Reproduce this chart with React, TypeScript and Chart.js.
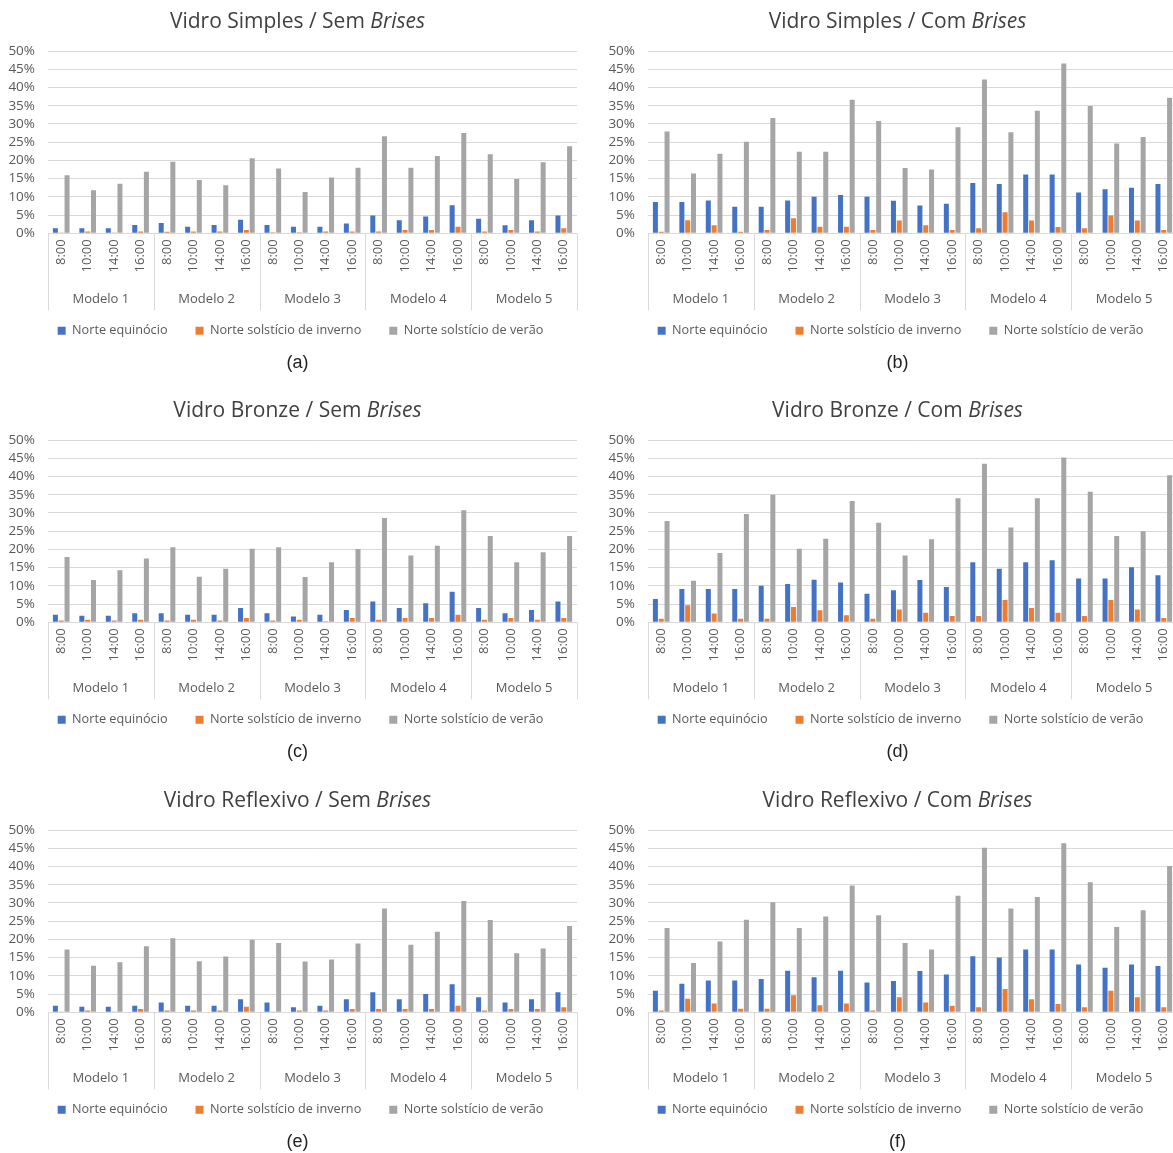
import React, { useEffect, useRef } from "react";
import { Chart, registerables } from "chart.js";

Chart.register(...registerables);

const times = ["8:00", "10:00", "14:00", "16:00"];
const models = ["Modelo 1", "Modelo 2", "Modelo 3", "Modelo 4", "Modelo 5"];
const seriesNames = ["Norte equinócio", "Norte solstício de inverno", "Norte solstício de verão"];
const seriesColors = ["#4472C4", "#ED7D31", "#A5A5A5"];
const yMax = 50;
const yStep = 5;

// (a) Vidro Simples / Sem Brises
const aEquinocio = [1.4, 1.4, 1.4, 2.3, 2.8, 1.8, 2.3, 3.7, 2.3, 1.8, 1.8, 2.7, 4.9, 3.6, 4.6, 7.7, 4.0, 2.2, 3.6, 4.9];
const aInverno = [0.2, 0.5, 0.1, 0.5, 0.4, 0.5, 0.5, 0.9, 0.3, 0.3, 0.5, 0.5, 0.5, 0.9, 0.9, 1.8, 0.5, 0.9, 0.5, 1.4];
const aVerao = [15.9, 11.8, 13.6, 16.9, 19.6, 14.6, 13.2, 20.6, 17.8, 11.3, 15.3, 18.0, 26.6, 18.0, 21.2, 27.5, 21.7, 14.9, 19.5, 23.9];

// (b) Vidro Simples / Com Brises
const bEquinocio = [8.6, 8.6, 9.0, 7.3, 7.3, 9.0, 10.0, 10.5, 10.0, 8.9, 7.6, 8.1, 13.8, 13.5, 16.1, 16.1, 11.2, 12.1, 12.5, 13.5];
const bInverno = [0.4, 3.6, 2.2, 0.4, 0.9, 4.1, 1.8, 1.8, 0.9, 3.5, 2.2, 0.9, 1.4, 5.8, 3.5, 1.7, 1.4, 4.9, 3.5, 0.9];
const bVerao = [27.9, 16.4, 21.8, 25.1, 31.6, 22.4, 22.4, 36.6, 30.8, 17.9, 17.5, 29.1, 42.2, 27.7, 33.6, 46.6, 34.9, 24.6, 26.4, 37.2];

// (c) Vidro Bronze / Sem Brises
const cEquinocio = [2.1, 1.8, 1.8, 2.5, 2.5, 2.1, 2.1, 3.9, 2.5, 1.6, 2.1, 3.4, 5.7, 3.9, 5.2, 8.4, 3.9, 2.5, 3.4, 5.7];
const cInverno = [0.5, 0.7, 0.5, 0.7, 0.5, 0.7, 0.5, 1.2, 0.5, 0.7, 0.3, 1.2, 0.7, 1.2, 1.2, 2.1, 0.7, 1.2, 0.7, 1.2];
const cVerao = [17.9, 11.6, 14.3, 17.5, 20.6, 12.5, 14.7, 20.2, 20.6, 12.4, 16.5, 20.1, 28.6, 18.3, 21.0, 30.7, 23.7, 16.5, 19.2, 23.7];

// (d) Vidro Bronze / Com Brises
const dEquinocio = [6.4, 9.1, 9.1, 9.1, 10.0, 10.5, 11.7, 10.9, 7.8, 8.8, 11.6, 9.7, 16.5, 14.7, 16.5, 17.0, 12.0, 12.0, 15.1, 12.9];
const dInverno = [1.0, 4.7, 2.4, 1.0, 1.0, 4.2, 3.3, 1.9, 1.0, 3.5, 2.6, 1.7, 1.7, 6.1, 3.9, 2.6, 1.7, 6.1, 3.5, 1.2];
const dVerao = [27.8, 11.4, 19.0, 29.7, 35.0, 20.2, 22.9, 33.3, 27.3, 18.3, 22.8, 34.0, 43.5, 26.0, 34.0, 45.2, 35.8, 23.7, 25.0, 40.3];

// (e) Vidro Reflexivo / Sem Brises
const eEquinocio = [1.8, 1.5, 1.5, 1.8, 2.7, 1.8, 1.8, 3.6, 2.7, 1.4, 1.8, 3.6, 5.5, 3.6, 5.0, 7.7, 4.1, 2.7, 3.6, 5.5];
const eInverno = [0.1, 0.5, 0.1, 0.9, 0.5, 0.5, 0.5, 1.5, 0.1, 0.5, 0.5, 0.9, 0.9, 0.9, 0.9, 1.8, 0.5, 0.9, 0.9, 1.4];
const eVerao = [17.2, 12.8, 13.7, 18.1, 20.3, 14.0, 15.3, 19.9, 19.0, 13.9, 14.5, 18.9, 28.5, 18.5, 22.1, 30.5, 25.3, 16.2, 17.5, 23.7];

// (f) Vidro Reflexivo / Com Brises
const fEquinocio = [5.9, 7.8, 8.7, 8.7, 9.1, 11.4, 9.6, 11.4, 8.2, 8.6, 11.3, 10.4, 15.4, 15.0, 17.2, 17.2, 13.1, 12.2, 13.1, 12.7];
const fInverno = [0.5, 3.7, 2.4, 1.0, 1.0, 4.7, 1.9, 2.4, 0.5, 4.1, 2.7, 1.8, 1.4, 6.4, 3.6, 2.3, 1.4, 5.9, 4.1, 1.4];
const fVerao = [23.1, 13.5, 19.4, 25.4, 30.2, 23.1, 26.3, 34.8, 26.6, 19.0, 17.2, 32.0, 45.1, 28.5, 31.6, 46.4, 35.7, 23.4, 28.0, 40.1];

const FONT = "'Open Sans', sans-serif";
const TEXT = "#595959";
const GRID = "#d9d9d9";

const labels = models.flatMap(() => times);

const groupPlugin = {
  id: "modelGroups",
  afterLayout(chart: any) {
    // centre the legend on the whole chart area box, as in the source figure
    if (chart.legend) {
      chart.legend.left += 12;
      chart.legend.right += 12;
    }
  },
  afterDraw(chart: any) {
    const x = chart.scales.x;
    const area = chart.chartArea;
    const ctx = chart.ctx;
    const per = times.length;
    const w = (x.right - x.left) / labels.length;
    ctx.save();
    ctx.strokeStyle = GRID;
    ctx.lineWidth = 1;
    for (let g = 0; g <= models.length; g++) {
      const px = Math.round(x.getPixelForValue(g * per) - w / 2) + 0.5;
      ctx.beginPath();
      ctx.moveTo(px, area.bottom);
      ctx.lineTo(px, area.bottom + 77);
      ctx.stroke();
    }
    ctx.fillStyle = TEXT;
    ctx.font = `13px ${FONT}`;
    ctx.textAlign = "center";
    ctx.textBaseline = "middle";
    models.forEach((m, g) => {
      const cx = (x.getPixelForValue(g * per) + x.getPixelForValue(g * per + per - 1)) / 2;
      ctx.fillText(m, cx, area.bottom + 66);
    });
    ctx.restore();
  },
};

type PanelProps = {
  glass: string;
  brise: string;
  letter: string;
  left: number;
  top: number;
  series: number[][];
};

function Panel({ glass, brise, letter, left, top, series }: PanelProps) {
  const ref = useRef<HTMLCanvasElement | null>(null);
  useEffect(() => {
    if (!ref.current) return;
    const chart = new Chart(ref.current, {
      type: "bar",
      data: {
        labels,
        datasets: seriesNames.map((name, i) => ({
          label: name,
          data: series[i],
          backgroundColor: seriesColors[i],
          borderWidth: 0,
          barPercentage: 0.86,
          categoryPercentage: 0.66,
        })),
      },
      options: {
        responsive: false,
        animation: false,
        layout: { padding: { left: 0, right: 18, top: 51, bottom: 43 } },
        plugins: {
          legend: {
            position: "bottom",
            labels: {
              boxWidth: 8,
              boxHeight: 8,
              padding: 28,
              color: TEXT,
              font: { family: FONT, size: 12.7 },
            },
          },
          title: { display: false },
          tooltip: { enabled: false },
        },
        scales: {
          x: {
            grid: { display: false, drawTicks: false },
            border: { display: false },
            ticks: {
              minRotation: 90,
              maxRotation: 90,
              autoSkip: false,
              padding: 6,
              color: TEXT,
              font: { family: FONT, size: 13 },
            },
            afterFit: (s: any) => {
              s.height = 63;
            },
          },
          y: {
            min: 0,
            max: yMax,
            ticks: {
              stepSize: yStep,
              autoSkip: false,
              callback: (v: any) => `${v}%`,
              padding: 13,
              color: TEXT,
              font: { family: FONT, size: 13.5 },
            },
            grid: { color: GRID, drawTicks: false },
            border: { display: false },
            afterFit: (s: any) => {
              s.width = 48;
            },
          },
        },
      },
      plugins: [groupPlugin],
    } as any);
    return () => chart.destroy();
  }, []);

  return (
    <div style={{ position: "absolute", left, top, width: 595, height: 390 }}>
      <canvas ref={ref} width={595} height={390} style={{ position: "absolute", left: 0, top: 0 }} />
      <div
        style={{
          position: "absolute",
          left: 0,
          top: 6,
          width: 595,
          lineHeight: "28px",
          textAlign: "center",
          fontFamily: FONT,
          fontSize: 21,
          color: "#404040",
        }}
      >
        {glass} / {brise} <i>Brises</i>
      </div>
      <div
        style={{
          position: "absolute",
          left: 0,
          top: 349,
          width: 595,
          lineHeight: "26px",
          textAlign: "center",
          fontFamily: "'Liberation Sans', Arial, sans-serif",
          fontSize: 18,
          color: "#222",
        }}
      >
        ({letter})
      </div>
    </div>
  );
}

export default function App() {
  return (
    <div
      style={{
        position: "absolute",
        left: 0,
        top: 0,
        width: 1173,
        height: 1153,
        overflow: "hidden",
        background: "#fff",
      }}
    >
      <Panel glass="Vidro Simples" brise="Sem" letter="a" left={0} top={0} series={[aEquinocio, aInverno, aVerao]} />
      <Panel glass="Vidro Simples" brise="Com" letter="b" left={600} top={0} series={[bEquinocio, bInverno, bVerao]} />
      <Panel glass="Vidro Bronze" brise="Sem" letter="c" left={0} top={389} series={[cEquinocio, cInverno, cVerao]} />
      <Panel glass="Vidro Bronze" brise="Com" letter="d" left={600} top={389} series={[dEquinocio, dInverno, dVerao]} />
      <Panel glass="Vidro Reflexivo" brise="Sem" letter="e" left={0} top={779} series={[eEquinocio, eInverno, eVerao]} />
      <Panel glass="Vidro Reflexivo" brise="Com" letter="f" left={600} top={779} series={[fEquinocio, fInverno, fVerao]} />
    </div>
  );
}
